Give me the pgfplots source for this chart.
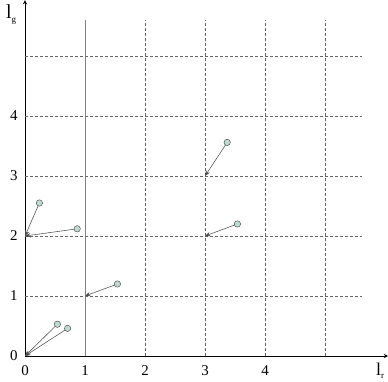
\documentclass[border=0pt]{standalone}
\usepackage{pgfplots}
\pgfplotsset{compat=1.18}
\usepackage{pgfplotstable}
\usetikzlibrary{arrows.meta}
\usepackage{fontspec}
\setmainfont{Liberation Serif}
\definecolor{ptfill}{HTML}{BCDACD}
\definecolor{ptedge}{HTML}{555555}
\pgfplotstableread{
x y u v
0.24 2.55 -0.24 -0.55
0.87 2.12 -0.87 -0.12
1.54 1.20 -0.54 -0.20
0.54 0.53 -0.54 -0.53
0.71 0.46 -0.71 -0.46
3.37 3.56 -0.37 -0.56
3.54 2.20 -0.54 -0.20
}\arrows
\begin{document}
\begin{tikzpicture}
\path[use as bounding box] (-25bp,-26bp) rectangle (363bp,356bp);
\begin{axis}[
  x=60bp, y=60bp,
  xmin=0, xmax=6.05, ymin=0, ymax=5.93,
  axis lines=left,
  axis line style={black, line width=0.9pt, -stealth},
  xtick={0,1,2,3,4}, ytick={0,1,2,3,4},
  major tick length=0pt,
  tick label style={font=\fontsize{15}{17}\selectfont},
  /pgf/number format/assume math mode=true,
  xticklabel style={yshift=-6bp},
  yticklabel style={xshift=-4bp},
  clip=false,
]
\foreach \k in {2,3,4,5} {
  \edef\tmp{\noexpand\draw[dash pattern=on 3bp off 2bp, line width=0.6pt, black!60] (axis cs:\k,0) -- (axis cs:\k,5.6);}\tmp
}
\foreach \k in {1,2,3,4,5} {
  \edef\tmp{\noexpand\draw[dash pattern=on 3bp off 2bp, line width=0.6pt, black!60] (axis cs:0,\k) -- (axis cs:5.62,\k);}\tmp
}
\draw[line width=0.7pt, black!50] (axis cs:1,0) -- (axis cs:1,5.6);
\addplot[quiver={u=\thisrow{u}, v=\thisrow{v}, every arrow/.append style={-{Stealth[length=5.5bp,width=4.5bp,fill=black]}}}, draw=black!65, line width=0.6pt] table[x=x, y=y] {\arrows};
\addplot[only marks, mark=*, mark size=3.2bp, mark options={fill=ptfill, draw=ptedge, line width=0.5pt}] table[x=x, y=y] {\arrows};
\node[font=\fontsize{20}{22}\selectfont, anchor=base, inner sep=0pt] at (axis cs:-0.23,5.62) {l\raisebox{-0.4ex}{\fontsize{9}{9}\selectfont g}};
\node[font=\fontsize{18}{20}\selectfont, anchor=base, inner sep=0pt] at (axis cs:5.92,-0.32) {l\raisebox{-0.4ex}{\fontsize{9}{9}\selectfont r}};
\end{axis}
\end{tikzpicture}
\end{document}
